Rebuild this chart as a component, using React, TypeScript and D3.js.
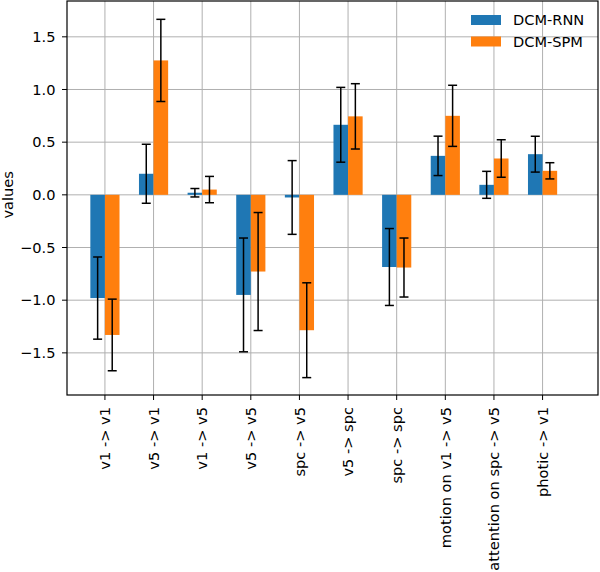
import React, { useRef, useEffect } from 'react';
import * as d3 from 'd3';

const categories = [
  'v1 -> v1',
  'v5 -> v1',
  'v1 -> v5',
  'v5 -> v5',
  'spc -> v5',
  'v5 -> spc',
  'spc -> spc',
  'motion on v1 -> v5',
  'attention on spc -> v5',
  'photic -> v1'
];
const rnnValues = [-0.98, 0.2, 0.02, -0.95, -0.025, 0.665, -0.685, 0.37, 0.095, 0.386];
const rnnErrors = [0.39, 0.28, 0.04, 0.54, 0.35, 0.355, 0.365, 0.187, 0.128, 0.17];
const spmValues = [-1.33, 1.276, 0.05, -0.728, -1.285, 0.745, -0.69, 0.75, 0.345, 0.228];
const spmErrors = [0.34, 0.39, 0.125, 0.56, 0.45, 0.31, 0.28, 0.29, 0.178, 0.077];
const yTicks = [-1.5, -1.0, -0.5, 0.0, 0.5, 1.0, 1.5];
const seriesNames = ['DCM-RNN', 'DCM-SPM'];
const seriesColors = ['#1f77b4', '#ff7f0e'];

export default function App(): JSX.Element {
  const svgRef = useRef<SVGSVGElement>(null);
  useEffect(() => {
    const svgEle = svgRef.current;
    if (svgEle == null) {
      return;
    }
    const svg = d3.select(svgEle);
    svg.selectAll('*').remove();

    const font = 'DejaVu Sans, sans-serif';
    const fontSize = '14.6px';
    const plot = { left: 67, right: 598, top: 1, bottom: 395 };
    const barW = 0.3;

    const x = d3.scaleLinear().domain([-0.78, 10.14]).range([plot.left, plot.right]);
    const y = d3.scaleLinear().domain([-1.9, 1.84]).range([plot.bottom, plot.top]);

    // 网格
    const grid = svg.append('g');
    grid
      .selectAll()
      .data(categories)
      .join('line')
      .attr('x1', (_d, i) => x(i))
      .attr('x2', (_d, i) => x(i))
      .attr('y1', plot.top)
      .attr('y2', plot.bottom)
      .attr('stroke', '#b0b0b0')
      .attr('stroke-width', 1);
    grid
      .selectAll()
      .data(yTicks)
      .join('line')
      .attr('x1', plot.left)
      .attr('x2', plot.right)
      .attr('y1', (d) => y(d))
      .attr('y2', (d) => y(d))
      .attr('stroke', '#b0b0b0')
      .attr('stroke-width', 1);

    const series = [
      { values: rnnValues, errors: rnnErrors, offset: -barW / 2, color: seriesColors[0] },
      { values: spmValues, errors: spmErrors, offset: barW / 2, color: seriesColors[1] }
    ];

    // 柱子
    series.forEach((s) => {
      svg
        .append('g')
        .selectAll()
        .data(s.values)
        .join('rect')
        .attr('x', (_d, i) => x(i + s.offset - barW / 2))
        .attr('width', x(barW) - x(0))
        .attr('y', (d) => y(Math.max(0, d)))
        .attr('height', (d) => Math.abs(y(d) - y(0)))
        .attr('fill', s.color);
    });

    // 误差线
    series.forEach((s) => {
      const g = svg.append('g').attr('stroke', '#000').attr('stroke-width', 1.5);
      const cap = 4.5;
      s.values.forEach((v, i) => {
        const cx = x(i + s.offset);
        const lo = y(v - s.errors[i]);
        const hi = y(v + s.errors[i]);
        g.append('line').attr('x1', cx).attr('x2', cx).attr('y1', lo).attr('y2', hi);
        g.append('line').attr('x1', cx - cap).attr('x2', cx + cap).attr('y1', lo).attr('y2', lo);
        g.append('line').attr('x1', cx - cap).attr('x2', cx + cap).attr('y1', hi).attr('y2', hi);
      });
    });

    // 边框
    svg
      .append('rect')
      .attr('x', plot.left)
      .attr('y', plot.top)
      .attr('width', plot.right - plot.left)
      .attr('height', plot.bottom - plot.top)
      .attr('fill', 'none')
      .attr('stroke', '#000')
      .attr('stroke-width', 1.2);

    // y 轴
    const yAxis = svg.append('g');
    yAxis
      .selectAll()
      .data(yTicks)
      .join('line')
      .attr('x1', plot.left - 5)
      .attr('x2', plot.left)
      .attr('y1', (d) => y(d))
      .attr('y2', (d) => y(d))
      .attr('stroke', '#000');
    yAxis
      .selectAll()
      .data(yTicks)
      .join('text')
      .attr('x', plot.left - 11.5)
      .attr('y', (d) => y(d))
      .attr('dy', '0.36em')
      .attr('text-anchor', 'end')
      .style('font-family', font)
      .style('font-size', fontSize)
      .text((d) => d3.format('.1f')(d).replace('-', '\u2212'));

    svg
      .append('text')
      .attr('transform', `translate(13, ${y(0)}) rotate(-90)`)
      .attr('text-anchor', 'middle')
      .style('font-family', font)
      .style('font-size', fontSize)
      .text('values');

    // x 轴
    const xAxis = svg.append('g');
    xAxis
      .selectAll()
      .data(categories)
      .join('line')
      .attr('x1', (_d, i) => x(i))
      .attr('x2', (_d, i) => x(i))
      .attr('y1', plot.bottom)
      .attr('y2', plot.bottom + 5)
      .attr('stroke', '#000');
    xAxis
      .selectAll()
      .data(categories)
      .join('text')
      .attr('transform', (_d, i) => `translate(${x(i)}, ${plot.bottom + 12}) rotate(-90)`)
      .attr('text-anchor', 'end')
      .attr('dy', '0.36em')
      .style('font-family', font)
      .style('font-size', fontSize)
      .text((d) => d);

    // 图例
    const legend = svg.append('g').attr('transform', 'translate(471, 15)');
    seriesNames.forEach((name, i) => {
      legend
        .append('rect')
        .attr('x', 0)
        .attr('y', i * 21.5)
        .attr('width', 30)
        .attr('height', 10)
        .attr('fill', seriesColors[i]);
      legend
        .append('text')
        .attr('x', 42)
        .attr('y', i * 21.5 + 5)
        .attr('dy', '0.36em')
        .style('font-family', font)
        .style('font-size', fontSize)
        .text(name);
    });
  }, []);
  return (
    <svg
      ref={svgRef}
      width={600}
      height={572}
      style={{ position: 'absolute', left: 0, top: 0, background: '#fff' }}
    />
  );
}
